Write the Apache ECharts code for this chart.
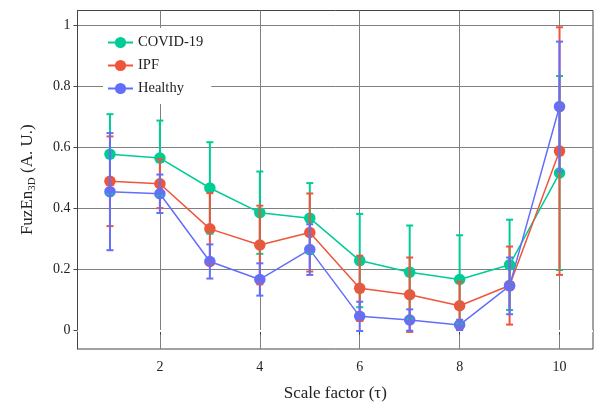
<!DOCTYPE html>
<html>
<head>
<meta charset="utf-8">
<script src="https://cdn.jsdelivr.net/npm/echarts@6/dist/echarts.min.js"></script>
<style>
  html, body { margin: 0; padding: 0; background: #fff; }
  #chart { width: 599px; height: 403px; }
</style>
</head>
<body>
<div id="chart"></div>
<script>
// scale factors (tau)
const scales = [1, 2, 3, 4, 5, 6, 7, 8, 9, 10];

// mean and std of FuzEn3D per group
const covidMean = [0.579, 0.566, 0.468, 0.387, 0.369, 0.230, 0.192, 0.168, 0.216, 0.517];
const covidStd = [0.131, 0.123, 0.150, 0.135, 0.115, 0.153, 0.153, 0.145, 0.148, 0.318];
const ipfMean = [0.490, 0.482, 0.334, 0.281, 0.322, 0.139, 0.118, 0.082, 0.148, 0.589];
const ipfStd = [0.147, 0.080, 0.117, 0.129, 0.128, 0.107, 0.122, 0.078, 0.128, 0.406];
const healthyMean = [0.456, 0.449, 0.227, 0.168, 0.266, 0.047, 0.035, 0.019, 0.147, 0.735];
const healthyStd = [0.192, 0.063, 0.056, 0.053, 0.083, 0.048, 0.035, 0.017, 0.093, 0.213];

const groups = [
  { name: "COVID-19", mean: covidMean, std: covidStd, color: "#00cc96" },
  { name: "IPF", mean: ipfMean, std: ipfStd, color: "#ef553b" },
  { name: "Healthy", mean: healthyMean, std: healthyStd, color: "#636efa" }
];

const font = "Liberation Serif";

function errorBar(color) {
  return function (params, api) {
    const x = api.value(0);
    const lo = api.coord([x, api.value(1)]);
    const hi = api.coord([x, api.value(2)]);
    const half = 3.5;
    const style = { stroke: color, lineWidth: 2 };
    return {
      type: "group",
      children: [
        { type: "line", shape: { x1: lo[0], y1: lo[1], x2: hi[0], y2: hi[1] }, style: style },
        { type: "line", shape: { x1: lo[0] - half, y1: lo[1], x2: lo[0] + half, y2: lo[1] }, style: style },
        { type: "line", shape: { x1: hi[0] - half, y1: hi[1], x2: hi[0] + half, y2: hi[1] }, style: style }
      ]
    };
  };
}

const series = [];
// white zero line like the reference
series.push({
  type: "line",
  data: [],
  z: 1,
  silent: true,
  markLine: {
    silent: true,
    symbol: "none",
    label: { show: false },
    lineStyle: { color: "#fff", width: 2, type: "solid" },
    data: [{ yAxis: 0 }]
  }
});
groups.forEach(function (g) {
  series.push({
    name: g.name,
    type: "line",
    symbol: "circle",
    symbolSize: 11.5,
    z: 3,
    itemStyle: { color: g.color },
    lineStyle: { color: g.color, width: 1.5 },
    data: scales.map(function (s, i) { return [s, g.mean[i]]; })
  });
});
groups.forEach(function (g, k) {
  series.push({
    name: g.name + " err",
    type: "custom",
    z: 4 + k,
    renderItem: errorBar(g.color),
    encode: { x: 0, y: [1, 2] },
    data: scales.map(function (s, i) { return [s, g.mean[i] - g.std[i], g.mean[i] + g.std[i]]; })
  });
});

const chart = echarts.init(document.getElementById("chart"));
chart.setOption({
  animation: false,
  backgroundColor: "#fff",
  textStyle: { fontFamily: font },
  grid: {
    left: 77.5,
    right: 6,
    top: 10.5,
    bottom: 54,
    containLabel: false,
    outerBoundsMode: "none",
    show: true,
    borderColor: "#444",
    borderWidth: 1
  },
  legend: {
    orient: "vertical",
    left: 103,
    top: 28,
    padding: [7, 8, 8, 4],
    itemGap: 8,
    itemWidth: 25,
    itemHeight: 14,
    backgroundColor: "#fff",
    data: groups.map(function (g) { return g.name; }),
    textStyle: { fontFamily: font, fontSize: 14.5, color: "#222" }
  },
  xAxis: {
    type: "value",
    min: 0.35,
    max: 10.67,
    splitNumber: 5,
    name: "Scale factor (τ)",
    nameLocation: "middle",
    nameGap: 36,
    nameTextStyle: { fontFamily: font, fontSize: 17, color: "#222" },
    axisLine: { show: true, lineStyle: { color: "#444" } },
    axisTick: { show: true, length: 4, lineStyle: { color: "#444" } },
    axisLabel: { showMinLabel: false, showMaxLabel: false, margin: 11, fontSize: 14, color: "#222", fontFamily: font },
    splitLine: { show: true, showMinLine: false, showMaxLine: false, lineStyle: { color: "#808080", width: 1 } }
  },
  yAxis: {
    type: "value",
    min: -0.06,
    max: 1.05,
    splitNumber: 5,
    name: "{a|FuzEn}{b|3D}{a| (A. U.)}",
    nameLocation: "middle",
    nameGap: 40,
    nameTextStyle: {
      fontFamily: font,
      color: "#222",
      rich: {
        a: { fontFamily: font, fontSize: 17, color: "#222" },
        b: { fontFamily: font, fontSize: 11, color: "#222", padding: [8, 0, 0, 0] }
      }
    },
    axisLine: { show: true, lineStyle: { color: "#444" } },
    axisTick: { show: true, length: 4, lineStyle: { color: "#444" } },
    axisLabel: { showMinLabel: false, showMaxLabel: false, margin: 7, fontSize: 14, color: "#222", fontFamily: font },
    splitLine: { show: true, showMinLine: false, showMaxLine: false, lineStyle: { color: "#808080", width: 1 } }
  },
  series: series
});
</script>
</body>
</html>
